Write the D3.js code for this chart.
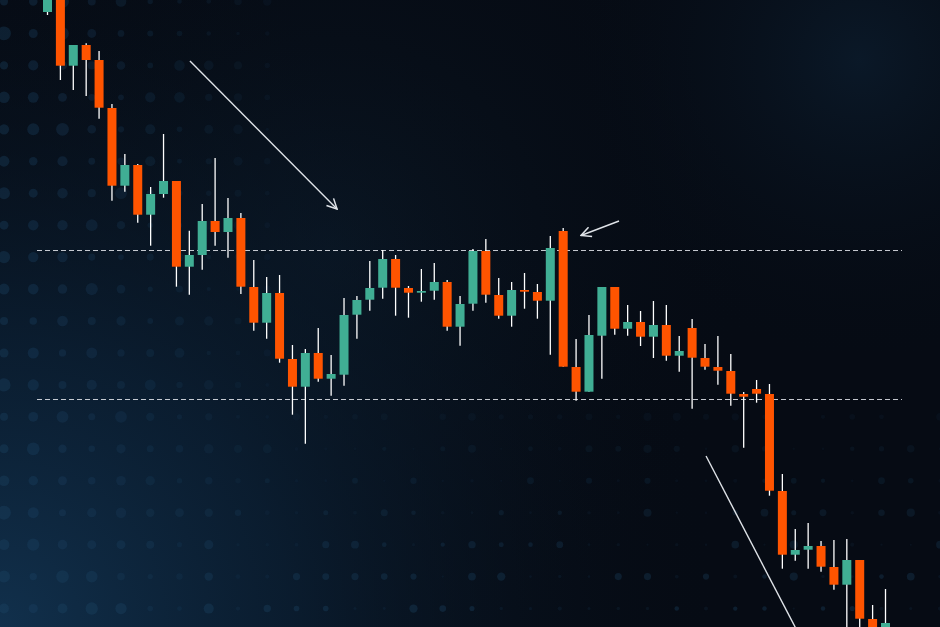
<!DOCTYPE html>
<html>
<head>
<meta charset="utf-8">
<script src="https://cdn.jsdelivr.net/npm/d3@7/dist/d3.min.js"></script>
<style>
  html, body { margin: 0; padding: 0; background: #060c15; overflow: hidden; }
  svg { display: block; }
</style>
</head>
<body>
<svg id="chart" width="940" height="627"></svg>
<script>
// ---- data (prices) ----
const sessions = d3.range(1, 67).map(i => "S" + i);
const opens  = [78.80,81.50,73.43,75.50,74.00,69.20,61.43,63.50,58.53,60.60,61.90,53.33,54.50,57.90,56.80,58.20,
                51.30,47.73,50.70,44.10,41.33,44.70,42.13,42.53,48.53,50.03,51.23,54.10,51.20,50.73,50.93,51.80,
                47.33,49.63,54.90,50.50,48.43,51.00,50.80,49.93,56.90,43.30,40.83,46.43,51.30,47.13,47.80,46.33,
                47.50,44.43,47.20,44.20,43.30,42.90,40.60,41.10,40.60,30.90,24.53,25.03,25.40,23.30,21.53,24.00,
                18.10,15.50];
const highs  = [83.00,82.00,75.50,75.67,74.90,69.60,64.60,63.60,61.30,66.60,61.90,56.93,59.60,64.20,60.20,58.70,
                54.00,52.30,52.50,45.50,45.10,47.20,44.50,50.20,50.40,53.90,55.00,54.50,51.40,53.10,53.70,52.00,
                50.40,55.10,56.10,52.20,51.80,52.70,51.60,56.40,57.20,46.10,48.50,51.30,51.30,49.50,48.90,49.90,
                49.50,46.40,48.10,45.60,46.40,44.60,40.80,42.00,41.60,32.60,27.10,27.70,25.90,26.00,26.10,24.00,
                19.50,21.10];
const lows   = [78.50,72.00,71.00,70.40,68.13,59.93,60.83,57.73,55.43,60.23,51.33,50.53,53.03,55.43,54.23,50.60,
                46.93,46.13,43.73,38.53,35.63,41.83,40.43,41.43,46.13,48.93,50.13,48.43,48.23,49.83,50.03,46.93,
                45.43,48.93,49.73,48.13,47.33,49.13,48.13,44.53,43.33,39.93,40.83,42.13,46.53,46.43,45.40,44.20,
                43.93,42.83,39.13,43.03,41.53,39.43,35.23,39.73,30.43,23.13,23.93,23.13,22.83,21.03,16.00,16.00,
                15.50,15.00];
const closes = [82.00,73.43,75.50,74.00,69.23,61.43,63.50,58.53,60.60,61.90,53.33,54.50,57.90,56.80,58.20,51.33,
                47.73,50.70,44.13,41.33,44.70,42.13,42.60,48.50,50.00,51.20,54.10,51.23,50.73,50.90,51.80,47.33,
                49.60,54.90,50.53,48.43,51.00,50.83,49.93,55.20,43.33,40.83,46.50,51.30,47.13,47.80,46.33,47.50,
                44.43,44.90,44.23,43.33,42.93,40.63,40.33,40.63,30.93,24.53,25.00,25.40,23.33,21.53,24.00,18.13,
                16.00,17.70];
const levels = [54.97, 40.07];                 // dashed support / resistance
// arrows: [fromIndex, fromPrice] -> [toIndex, toPrice]
const arrowFrom = [[11.05, 73.90], [44.33, 57.90], [51.08, 34.40]];
const arrowTo   = [[22.46, 59.10], [41.38, 56.45], [58.92, 15.00]];
const arrowHead = [true, true, false];

// ---- setup ----
const W = 940, H = 627;
const svg = d3.select("#chart");
const x = d3.scalePoint().domain(sessions).range([47.5, 885.5]);
const xi = d3.scaleLinear().domain([0, sessions.length - 1]).range([47.5, 885.5]);
const y = d3.scaleLinear().domain([17.3, 80]).range([H, 0]);

const defs = svg.append("defs");
function radial(id, cx, cy, r, stops) {
  const g = defs.append("radialGradient").attr("id", id)
    .attr("cx", cx).attr("cy", cy).attr("r", r).attr("gradientUnits", "userSpaceOnUse");
  stops.forEach(s => g.append("stop").attr("offset", s[0]).attr("stop-color", s[1]).attr("stop-opacity", s[2]));
}
radial("glowBL", 0, H, 720, [["0%", "#11304c", 1], ["40%", "#0b1f33", 0.85], ["100%", "#060c15", 0]]);
radial("glowTR", 860, 60, 300, [["0%", "#0b1a2a", 0.9], ["100%", "#060c15", 0]]);
radial("glowTL", 330, 250, 420, [["0%", "#0a1623", 1], ["100%", "#060c15", 0]]);

defs.append("marker").attr("id", "head")
  .attr("viewBox", "0 0 12 12").attr("refX", 11).attr("refY", 6)
  .attr("markerWidth", 12).attr("markerHeight", 12)
  .attr("markerUnits", "userSpaceOnUse").attr("orient", "auto")
  .append("path").attr("d", "M1,1 L11,6 L1,11")
  .attr("fill", "none").attr("stroke", "#dfe3e8").attr("stroke-width", 1.5);

// background
svg.append("rect").attr("width", W).attr("height", H).attr("fill", "#060b14");
svg.append("rect").attr("width", W).attr("height", H).attr("fill", "url(#glowTL)");
svg.append("rect").attr("width", W).attr("height", H).attr("fill", "url(#glowTR)");
svg.append("rect").attr("width", W).attr("height", H).attr("fill", "url(#glowBL)");

// decorative dot grid (stronger toward the left edge and the bottom)
const dots = [];
for (let r = 0; r < 20; r++) {
  for (let c = 0; c < 33; c++) {
    const cx = 4 + c * 29.25, cy = 1.5 + r * 31.95;
    const h = Math.abs(Math.sin(r * 12.9898 + c * 78.233) * 43758.5453) % 1;
    const left = Math.max(0, 1 - cx / 300);
    const bottom = Math.max(0, Math.min(1, (cy - 400) / 200));
    const w = Math.max(left, bottom * (h > 0.35 ? 1 : 0.3));
    if (w < 0.05) continue;
    const rad = 1 + h * 3.2 + left * 3;
    dots.push({cx, cy, rad, op: 0.12 + 0.45 * w});
  }
}
svg.append("g").selectAll("circle").data(dots).join("circle")
  .attr("cx", d => d.cx).attr("cy", d => d.cy).attr("r", d => d.rad)
  .attr("fill", "#1e4668").attr("opacity", d => d.op * 0.6);

// dashed levels
svg.append("g").selectAll("line").data(levels).join("line")
  .attr("x1", 37).attr("x2", 902)
  .attr("y1", d => Math.round(y(d)) + 0.5).attr("y2", d => Math.round(y(d)) + 0.5)
  .attr("stroke", "#e6e9ee").attr("stroke-opacity", 0.85)
  .attr("stroke-width", 1).attr("stroke-dasharray", "5,3");

// candles
const data = sessions.map((s, i) => ({s, o: opens[i], h: highs[i], l: lows[i], c: closes[i]}));
const g = svg.append("g");
g.selectAll("line.wick").data(data).join("line").attr("class", "wick")
  .attr("x1", d => x(d.s)).attr("x2", d => x(d.s))
  .attr("y1", d => y(d.h)).attr("y2", d => y(d.l))
  .attr("stroke", "#ffffff").attr("stroke-width", 1.3);
const bw = 9;
g.selectAll("rect.body").data(data).join("rect").attr("class", "body")
  .attr("x", d => x(d.s) - bw / 2)
  .attr("y", d => y(Math.max(d.o, d.c)))
  .attr("width", bw)
  .attr("height", d => Math.max(1.5, Math.abs(y(d.o) - y(d.c))))
  .attr("fill", d => d.c >= d.o ? "#40ae94" : "#ff5400");

// arrows
svg.append("g").selectAll("line").data(arrowFrom).join("line")
  .attr("x1", d => xi(d[0])).attr("y1", d => y(d[1]))
  .attr("x2", (d, i) => xi(arrowTo[i][0])).attr("y2", (d, i) => y(arrowTo[i][1]))
  .attr("stroke", "#dfe3e8").attr("stroke-width", 1.4)
  .attr("marker-end", (d, i) => arrowHead[i] ? "url(#head)" : null);
</script>
</body>
</html>
